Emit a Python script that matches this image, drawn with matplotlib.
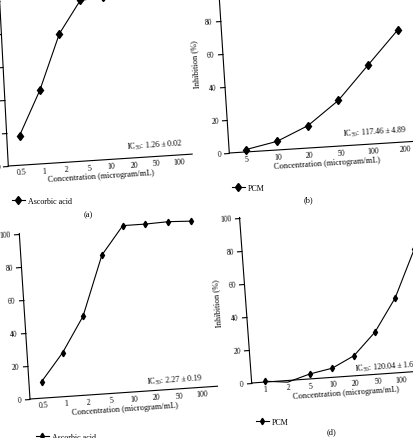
import matplotlib
matplotlib.use("Agg")
import matplotlib.pyplot as plt
from matplotlib.transforms import Affine2D
from mpl_toolkits.axisartist import floating_axes
from mpl_toolkits.axisartist.grid_finder import FixedLocator, DictFormatter

# Размер картинки в пикселях
W, H = 413, 439

# Концентрации (подписи оси x, категории)
conc_ascorbic = ["0.5", "1", "2", "5", "10", "20", "50", "100"]
conc_pcm_b = ["5", "10", "20", "50", "100", "200"]
conc_pcm_d = ["1", "2", "5", "10", "20", "50", "100", "200"]

# Ингибирование, %
inhib_a = [17.9, 44.3, 77.7, 96.9, 98.0, 99.7, 100.5, 101.0]
inhib_b = [1.4, 5.2, 13.5, 27.5, 47.6, 67.6]
inhib_c = [10.0, 26.5, 47.6, 83.6, 100.5, 100.5, 101.0, 100.4]
inhib_d = [0.5, -1.0, 3.0, 5.5, 12.1, 25.4, 45.1, 73.7]

ic50_a = "IC$_{\\mathrm{50}}$: 1.26 ± 0.02"
ic50_b = "IC$_{\\mathrm{50}}$: 117.46 ± 4.89"
ic50_c = "IC$_{\\mathrm{50}}$: 2.27 ± 0.19"
ic50_d = "IC$_{\\mathrm{50}}$: 120.04 ± 1.6"

y_ticks = [0, 20, 40, 60, 80, 100]

plt.rcParams["font.family"] = ["Liberation Serif", "DejaVu Serif"]
plt.rcParams["mathtext.fontset"] = "custom"
plt.rcParams["mathtext.rm"] = "Liberation Serif"
plt.rcParams["mathtext.it"] = "Liberation Serif:italic"
plt.rcParams["axes.linewidth"] = 0.8


def make_panel(fig, corner, sx, sy, xs, ys, xlim, ytop, labels):
    # Скошенные оси (скан страницы немного повёрнут)
    cx, cy = corner
    x0, x1 = xlim
    tr = Affine2D().translate(-x0, 0).scale(sx, sy).skew_deg(xs, ys)
    helper = floating_axes.GridHelperCurveLinear(
        tr,
        extremes=(x0, x1, 0, ytop),
        grid_locator1=FixedLocator(list(range(len(labels)))),
        tick_formatter1=DictFormatter(dict(enumerate(labels))),
        grid_locator2=FixedLocator(y_ticks),
        tick_formatter2=DictFormatter({v: str(v) for v in y_ticks}),
    )

    # рамка осей в пикселях относительно угла
    pts = tr.transform([(x0, 0), (x1, 0), (x1, ytop), (x0, ytop)])
    xmin, ymin = pts.min(axis=0)
    xmax, ymax = pts.max(axis=0)
    w, h = xmax - xmin, ymax - ymin
    xmin -= 0.01 * w
    ymin -= 0.01 * h
    w *= 1.02
    h *= 1.02
    rect = [(cx + xmin) / W, (H - cy + ymin) / H, w / W, h / H]

    ax = fig.add_axes(rect, axes_class=floating_axes.FloatingAxes,
                      grid_helper=helper)
    ax.patch.set_facecolor("none")
    ax.axis["top"].set_visible(False)
    ax.axis["right"].set_visible(False)

    left = ax.axis["left"]
    left.major_ticks.set_tick_out(True)
    left.major_ticks.set_ticksize(4)
    left.major_ticklabels.set_fontsize(5.5)
    left.major_ticklabels.set_pad(2)
    left.label.set_text("Inhibition (%)")
    left.label.set_fontsize(6)
    left.label.set_pad(3)

    bottom = ax.axis["bottom"]
    bottom.major_ticks.set_ticksize(0)
    bottom.major_ticklabels.set_fontsize(5.7)
    bottom.major_ticklabels.set_pad(2)
    bottom.label.set_text("Concentration (microgram/mL)")
    bottom.label.set_fontsize(6)
    bottom.label.set_pad(2)

    return ax.get_aux_axes(tr)


def add_legend(fig, line, xy):
    fig.legend(handles=[line], loc="center left",
               bbox_to_anchor=(xy[0] / W, 1 - xy[1] / H),
               frameon=False, fontsize=5.8, handlelength=1.6,
               handletextpad=0.4, borderpad=0, borderaxespad=0)


def add_letter(fig, xy, letter):
    fig.text(xy[0] / W, 1 - xy[1] / H, letter,
             ha="center", va="center", fontsize=6)


def add_ic50(fig, xy, angle, text):
    fig.text(xy[0] / W, 1 - xy[1] / H, text, rotation=angle,
             rotation_mode="anchor", ha="left", va="baseline", fontsize=5.8)


fig = plt.figure(figsize=(W / 100, H / 100), dpi=100)

# (a) аскорбиновая кислота
aux = make_panel(fig, (8.3, 167), 22.5, 1.655, -3.0, 3.7, (-0.57, 7.6), 100,
                 conc_ascorbic)
line_a, = aux.plot(range(len(inhib_a)), inhib_a, color="k", lw=0.8,
                   marker="d", ms=4.3, clip_on=False, label="Ascorbic acid")
add_ic50(fig, (127, 149.5), 3.7, ic50_a)
add_legend(fig, line_a, (12, 202))
add_letter(fig, (88, 215), "(a)")

# (b) PCM
aux = make_panel(fig, (229.3, 154), 31.8, 1.655, -3.7, 3.6, (-0.52, 5.56), 110,
                 conc_pcm_b)
line_b, = aux.plot(range(len(inhib_b)), inhib_b, color="k", lw=0.8,
                   marker="d", ms=4.3, clip_on=False, label="PCM")
add_ic50(fig, (343, 137), 3.6, ic50_b)
add_legend(fig, line_b, (232, 189))
add_letter(fig, (308, 200), "(b)")

# (c) аскорбиновая кислота (подпись "(c)" за краем скана)
aux = make_panel(fig, (30, 400), 22.7, 1.655, -3.7, 3.9, (-0.56, 7.7), 100,
                 conc_ascorbic)
line_c, = aux.plot(range(len(inhib_c)), inhib_c, color="k", lw=0.8,
                   marker="d", ms=3.3, clip_on=False, label="Ascorbic acid")
add_ic50(fig, (146.7, 385.3), 3.9, ic50_c)
add_legend(fig, line_c, (36, 438))

# (d) PCM
aux = make_panel(fig, (251.7, 384), 22.6, 1.655, -4.2, 4.0, (-0.59, 7.68), 100,
                 conc_pcm_d)
line_d, = aux.plot(range(len(inhib_d)), inhib_d, color="k", lw=0.8,
                   marker="d", ms=3.3, markevery=[0, 2, 3, 4, 5, 6, 7],
                   clip_on=False, label="PCM")
add_ic50(fig, (355, 372), 4.0, ic50_d)
add_legend(fig, line_d, (256, 423))
add_letter(fig, (331.7, 431.7), "(d)")

fig.savefig("out.png", dpi=100)
